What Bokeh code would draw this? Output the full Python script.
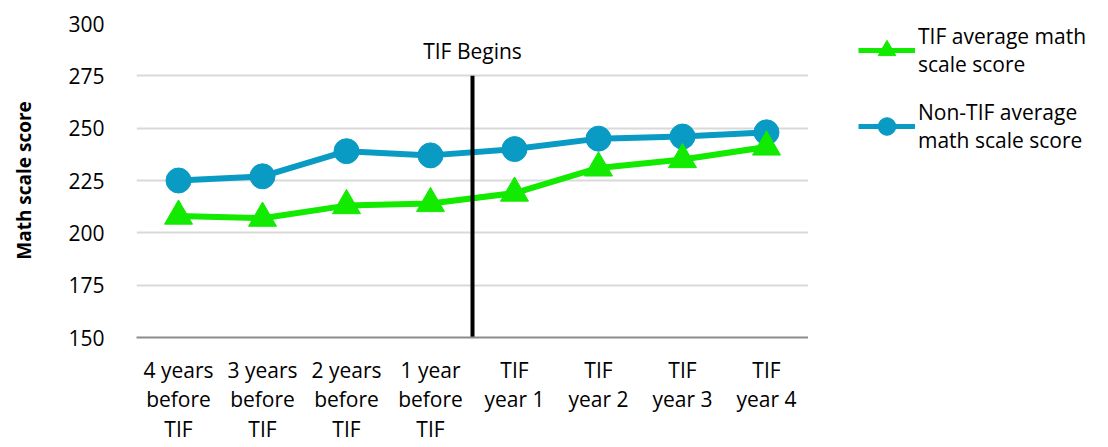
from bokeh.plotting import figure
from bokeh.layouts import row
from bokeh.models import (ColumnDataSource, FactorRange, Range1d, Legend, LegendItem,
                          FixedTicker)
from bokeh.transform import dodge
from bokeh.core.properties import value
from bokeh.embed import file_html
from bokeh.resources import INLINE

categories = ["4 years\nbefore\nTIF", "3 years\nbefore\nTIF", "2 years\nbefore\nTIF",
              "1 year\nbefore\nTIF", "TIF\nyear 1", "TIF\nyear 2", "TIF\nyear 3", "TIF\nyear 4"]
tif_scores = [208, 207, 213, 214, 219, 231, 235, 241]
non_tif_scores = [225, 227, 239, 237, 240, 245, 246, 248]
y_ticks = [150, 175, 200, 225, 250, 275, 300]
tif_label = "TIF average math\nscale score"
non_tif_label = "Non-TIF average\nmath scale score"
begin_category = "TIF\nyear 1"
begin_line_bottom = 150
begin_line_top = 275
begin_label = "TIF Begins"
begin_label_y = 287

FONT = "Open Sans"
GREEN = "#12EA00"
BLUE = "#0A9BC4"
H = 447

p = figure(width=808, height=H, x_range=FactorRange(*categories),
           y_range=Range1d(y_ticks[0], y_ticks[-1]), output_backend="svg",
           toolbar_location=None, min_border_left=136, min_border_right=0,
           min_border_top=23, min_border_bottom=110, outline_line_color=None)

src = ColumnDataSource(dict(x=categories, tif=tif_scores, non=non_tif_scores))

p.line("x", "non", source=src, line_color=BLUE, line_width=6)
p.scatter("x", "non", source=src, marker="circle", size=25, fill_color=BLUE, line_color=BLUE)
p.line("x", "tif", source=src, line_color=GREEN, line_width=6)
p.scatter("x", "tif", source=src, marker="triangle", size=28, fill_color=GREEN, line_color=GREEN)

bsrc = ColumnDataSource(dict(x=[begin_category], y0=[begin_line_bottom], y1=[begin_line_top],
                             ty=[begin_label_y], t=[begin_label]))
p.segment(x0=dodge("x", -0.5, range=p.x_range), x1=dodge("x", -0.5, range=p.x_range),
          y0="y0", y1="y1", source=bsrc, line_color="black", line_width=4)
p.text(x=dodge("x", -0.5, range=p.x_range), y="ty", text="t", source=bsrc,
       text_font=value(FONT), text_font_size="21px", text_align="center",
       text_baseline="middle", text_color="#000000")

p.yaxis.ticker = FixedTicker(ticks=y_ticks)
p.yaxis.axis_line_color = None
p.yaxis.major_tick_line_color = None
p.yaxis.minor_tick_line_color = None
p.yaxis.major_label_text_font = FONT
p.yaxis.major_label_text_font_size = "21px"
p.yaxis.major_label_text_color = "#000000"
p.yaxis.major_label_standoff = 26
p.yaxis.axis_label = "Math scale score"
p.yaxis.axis_label_text_font = FONT
p.yaxis.axis_label_text_font_size = "19px"
p.yaxis.axis_label_text_font_style = "bold"
p.yaxis.axis_label_text_color = "#000000"
p.yaxis.axis_label_standoff = 28

p.xaxis.axis_line_color = "#8c8c8c"
p.xaxis.axis_line_width = 2
p.xaxis.major_tick_line_color = None
p.xaxis.minor_tick_line_color = None
p.xaxis.major_label_text_font = FONT
p.xaxis.major_label_text_font_size = "21px"
p.xaxis.major_label_text_color = "#000000"
p.xaxis.major_label_text_line_height = 1.07
p.xaxis.major_label_standoff = 12

p.xgrid.grid_line_color = None
p.ygrid.grid_line_color = "#d9d9d9"
p.ygrid.grid_line_width = 2

# legend panel: a second figure holding only the legend; its series renderers use the
# same data but lie outside this panel's (0..1) value range, so only the legend shows
lp = figure(width=300, height=H, x_range=FactorRange(*categories), y_range=Range1d(0, 1),
            x_axis_type=None, y_axis_type=None, output_backend="svg",
            toolbar_location=None, min_border=0, outline_line_color=None)
lp.xgrid.visible = False
lp.ygrid.visible = False
ll1 = lp.line("x", "tif", source=src, line_color=GREEN, line_width=5)
ls1 = lp.scatter("x", "tif", source=src, marker="triangle", size=28, fill_color=GREEN, line_color=GREEN)
ll2 = lp.line("x", "non", source=src, line_color=BLUE, line_width=5)
ls2 = lp.scatter("x", "non", source=src, marker="circle", size=25, fill_color=BLUE, line_color=BLUE)

legend = Legend(items=[LegendItem(label=tif_label, renderers=[ll1, ls1]),
                       LegendItem(label=non_tif_label, renderers=[ll2, ls2])],
                location=(50, 183), padding=0, margin=0, spacing=20,
                glyph_width=57, glyph_height=44, label_standoff=3,
                label_text_font=FONT, label_text_font_size="21px",
                label_text_line_height=1.18, label_text_color="#000000",
                border_line_color=None, background_fill_alpha=0)
lp.add_layout(legend)

layout = row(p, lp, spacing=0)
open("out.html", "w").write(file_html(layout, INLINE))
